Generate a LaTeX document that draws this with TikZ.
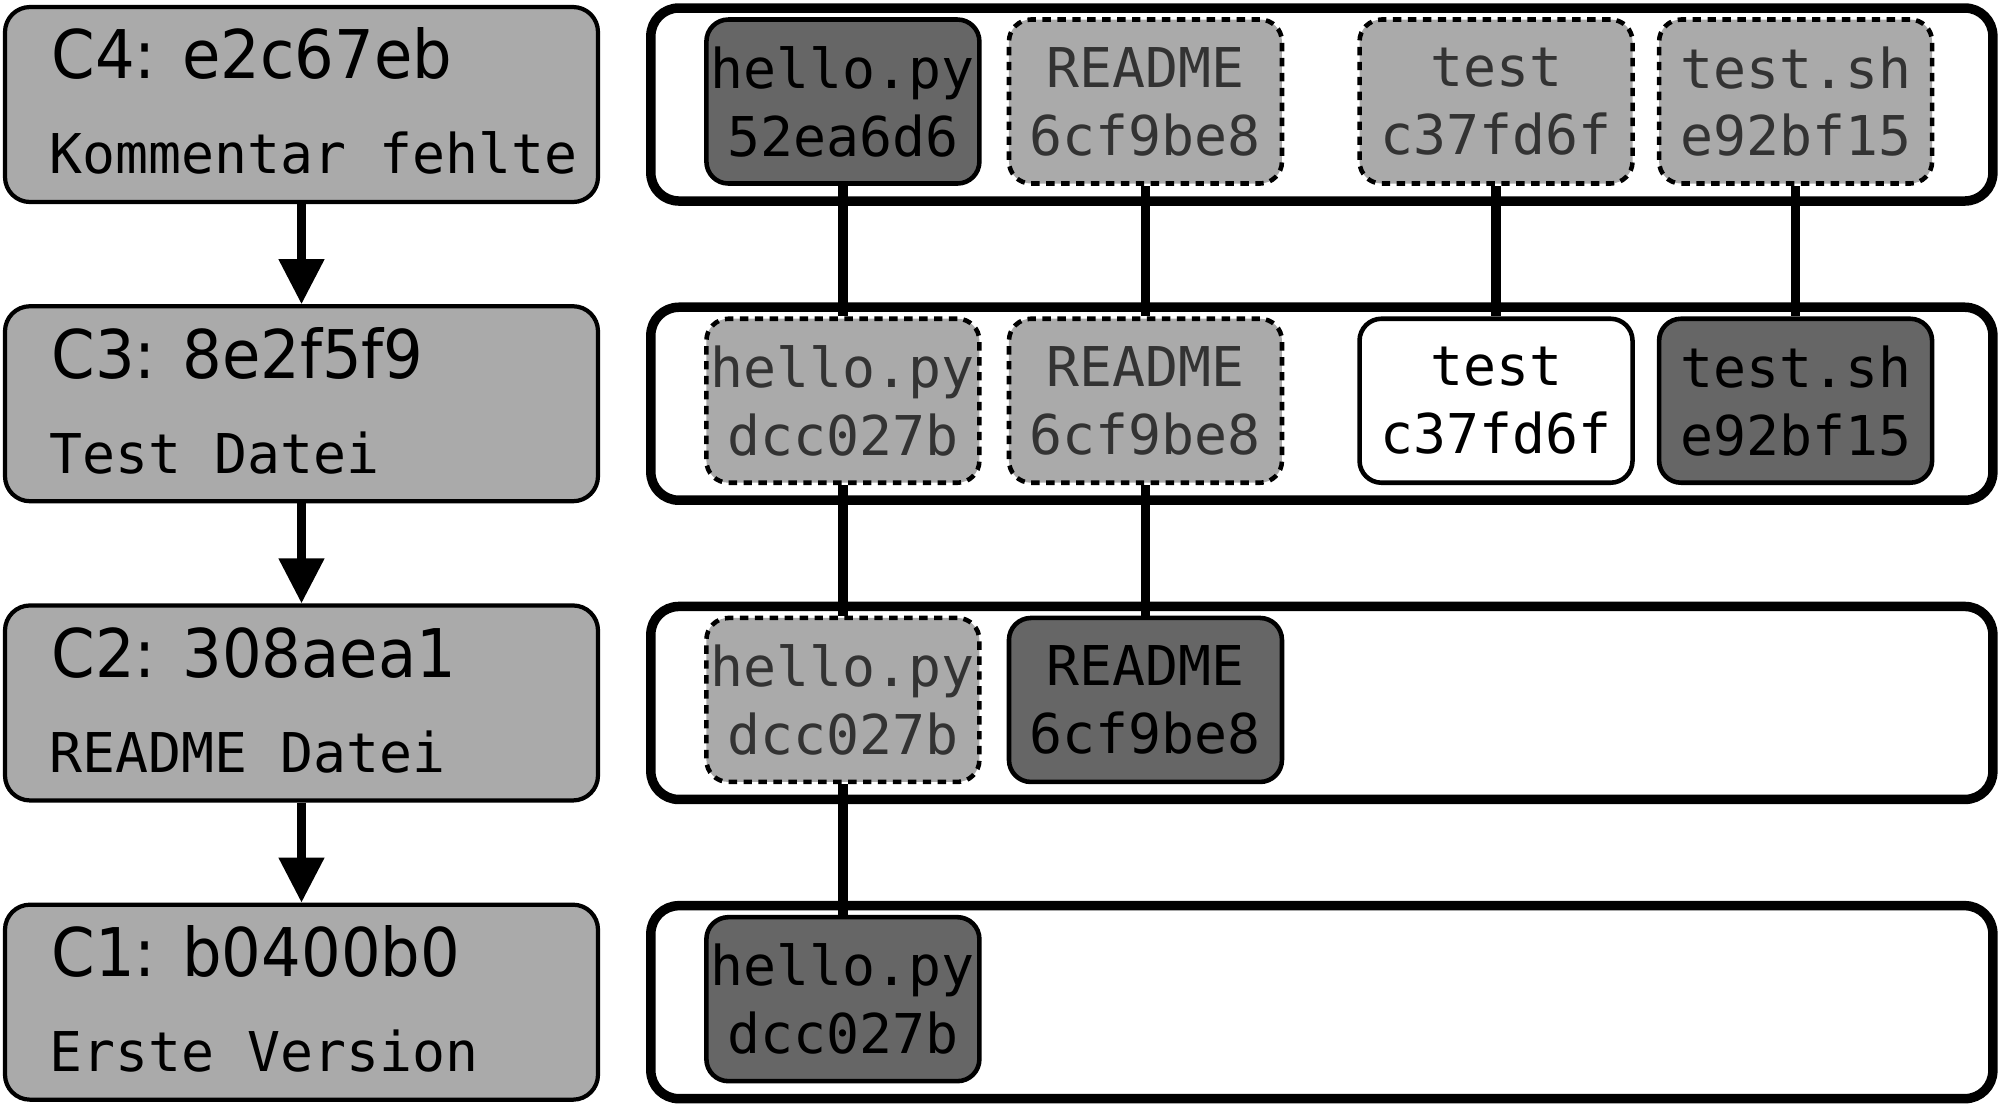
\documentclass[tikz,border=0pt]{standalone}
\usepackage{fontspec}
\setmainfont{DejaVu Sans}[FakeStretch=0.93]
\newfontfamily\hashfont{DejaVu Sans Mono}
\usepackage{xcolor}
\definecolor{commitgray}{HTML}{AAAAAA}
\definecolor{blobdark}{HTML}{666666}
\definecolor{ghosttext}{HTML}{333333}
\usetikzlibrary{arrows.meta,positioning}

\begin{document}
\begin{tikzpicture}[
    node distance=1cm and 0.46cm,
    commit/.style={draw, line width=1.2pt, rounded corners=0.25cm, fill=commitgray, minimum width=5.93cm, minimum height=1.95cm},
    repo/.style={draw, line width=2.7pt, rounded corners=0.28cm, minimum width=13.42cm, minimum height=1.93cm},
    blob/.style={draw, line width=1.3pt, rounded corners=0.22cm, minimum width=2.73cm, minimum height=1.64cm, inner sep=0pt, align=center, font=\hashfont\fontsize{15.6}{19.3}\selectfont},
    dark/.style={blob, fill=blobdark},
    ghost/.style={blob, fill=commitgray, text=ghosttext, dash pattern=on 2.4pt off 1.85pt},
    fresh/.style={blob, fill=white},
    ctitle/.style={anchor=base west, inner sep=0pt, font=\fontsize{19.1}{22}\selectfont},
    cmsg/.style={anchor=base west, inner sep=0pt, font=\hashfont\fontsize{15.6}{19}\selectfont},
    arr/.style={-{Triangle[length=0.45cm, width=0.44cm]}, line width=2.3pt},
    link/.style={line width=2.7pt}
]
\useasboundingbox (0,0) rectangle (20,-11.07);

% commits
\node[commit] (c4) at (3.015,-1.045) {};
\node[commit, below=of c4] (c3) {};
\node[commit, below=of c3] (c2) {};
\node[commit, below=of c2] (c1) {};

\node[ctitle] (c4t) at ([shift={(0.48,-0.74)}]c4.north west) {C4: e2c67eb};
\node[cmsg] (c4m) at ([shift={(0.46,-1.69)}]c4.north west) {Kommentar fehlte};
\node[ctitle] (c3t) at ([shift={(0.48,-0.74)}]c3.north west) {C3: 8e2f5f9};
\node[cmsg] (c3m) at ([shift={(0.46,-1.69)}]c3.north west) {Test Datei};
\node[ctitle] (c2t) at ([shift={(0.48,-0.74)}]c2.north west) {C2: 308aea1};
\node[cmsg] (c2m) at ([shift={(0.46,-1.69)}]c2.north west) {README Datei};
\node[ctitle] (c1t) at ([shift={(0.48,-0.74)}]c1.north west) {C1: b0400b0};
\node[cmsg] (c1m) at ([shift={(0.46,-1.69)}]c1.north west) {Erste Version};

\draw[arr] (c4) -- (c3);
\draw[arr] (c3) -- (c2);
\draw[arr] (c2) -- (c1);

% trees
\node[repo, right=of c4] (r4) {};
\node[repo, right=of c3] (r3) {};
\node[repo, right=of c2] (r2) {};
\node[repo, right=of c1] (r1) {};

\node[dark, right=0.58cm of r4.west, yshift=0.03cm] (h4) {hello.py\\52ea6d6};
\node[ghost, right=0.25cm of h4] (rm4) {README\\6cf9be8};
\node[ghost, right=0.73cm of rm4] (t4) {test\\c37fd6f};
\node[ghost, right=0.22cm of t4] (ts4) {test.sh\\e92bf15};

\node[ghost, right=0.58cm of r3.west, yshift=0.03cm] (h3) {hello.py\\dcc027b};
\node[ghost, right=0.25cm of h3] (rm3) {README\\6cf9be8};
\node[fresh, right=0.73cm of rm3] (t3) {test\\c37fd6f};
\node[dark, right=0.22cm of t3] (ts3) {test.sh\\e92bf15};

\node[ghost, right=0.58cm of r2.west, yshift=0.03cm] (h2) {hello.py\\dcc027b};
\node[dark, right=0.25cm of h2] (rm2) {README\\6cf9be8};

\node[dark, right=0.58cm of r1.west, yshift=0.03cm] (h1) {hello.py\\dcc027b};

\draw[link] (h4) -- (h3);
\draw[link] (rm4) -- (rm3);
\draw[link] (t4) -- (t3);
\draw[link] (ts4) -- (ts3);
\draw[link] (h3) -- (h2);
\draw[link] (rm3) -- (rm2);
\draw[link] (h2) -- (h1);
\end{tikzpicture}
\end{document}
